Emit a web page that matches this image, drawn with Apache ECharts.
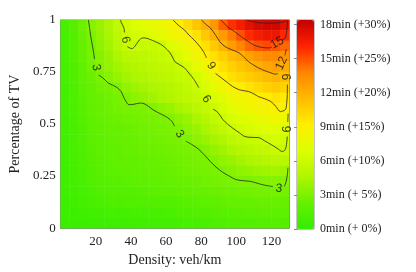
<!DOCTYPE html>
<html><head><meta charset="utf-8">
<script src="https://cdn.jsdelivr.net/npm/echarts@6/dist/echarts.min.js"></script>
<style>html,body{margin:0;padding:0;background:#fff}#c{width:416px;height:272px}</style>
</head><body><div id="c"></div>
<script>
// Density cell centres (veh/km)
const densities = [2.5,7.5,12.5,17.5,22.5,27.5,32.5,37.5,42.5,47.5,52.5,57.5,62.5,67.5,72.5,77.5,82.5,87.5,92.5,97.5,102.5,107.5,112.5,117.5,122.5,127.5];
// Share of TV cell centres, top row first
const tvShares = [0.975,0.925,0.875,0.825,0.775,0.725,0.675,0.625,0.575,0.525,0.475,0.425,0.375,0.325,0.275,0.225,0.175,0.125,0.075,0.025];
// Extra delay (min), rows follow tvShares, columns follow densities
const delayMin = [
 [1.0,1.6,2.5,3.3,3.9,4.6,5.5,6.3,6.8,7.2,7.6,8.0,8.5,9.1,10.0,11.0,11.9,13.0,14.7,15.8,16.5,17.2,17.7,17.9,17.9,17.2],
 [0.9,1.5,2.4,3.0,3.7,4.4,5.3,6.1,6.4,6.6,7.0,7.5,8.0,8.5,8.9,9.7,10.9,11.9,12.9,14.0,15.0,15.9,16.5,16.8,16.8,16.0],
 [0.9,1.4,2.3,2.9,3.5,4.2,5.0,5.8,5.9,5.7,5.8,6.0,6.8,7.5,8.2,8.9,9.8,10.8,11.8,12.8,13.7,14.5,15.0,15.2,14.9,14.5],
 [0.9,1.4,2.2,2.8,3.3,3.9,4.5,5.0,5.2,5.3,5.5,5.7,5.95,6.6,7.4,8.2,9.0,9.8,10.6,11.3,11.9,12.6,13.1,13.5,13.6,13.2],
 [0.9,1.3,2.1,2.7,3.2,3.7,4.2,4.6,4.8,5.0,5.2,5.4,5.6,5.85,6.5,7.4,8.3,9.2,9.9,10.5,11.0,11.5,12.0,12.4,12.6,12.2],
 [0.9,1.3,2.0,2.5,2.9,3.3,3.8,4.2,4.5,4.7,4.9,5.1,5.3,5.5,5.8,6.4,7.3,8.3,9.2,9.8,10.3,10.7,11.1,11.5,11.8,11.4],
 [0.8,1.2,1.9,2.3,2.6,2.8,3.0,3.6,4.0,4.3,4.5,4.7,4.9,5.2,5.5,5.9,6.6,7.4,8.2,8.8,9.3,9.7,10.1,10.5,10.8,10.4],
 [0.8,1.2,1.8,2.2,2.4,2.6,2.8,3.1,3.5,3.8,4.1,4.4,4.7,5.0,5.3,5.6,6.0,6.6,7.3,7.9,8.3,8.6,8.9,9.3,9.7,9.4],
 [0.8,1.1,1.7,2.1,2.3,2.5,2.7,2.85,2.9,2.95,3.1,3.5,3.9,4.3,4.7,5.1,5.5,6.0,6.6,7.2,7.7,8.1,8.4,8.7,8.95,8.7],
 [0.7,1.1,1.6,2.0,2.2,2.4,2.5,2.6,2.7,2.8,2.85,2.95,3.1,3.5,3.9,4.4,4.9,5.5,6.05,6.6,7.0,7.3,7.6,7.9,8.2,7.9],
 [0.7,1.0,1.5,1.9,2.1,2.2,2.3,2.4,2.5,2.6,2.7,2.8,2.9,3.1,3.5,3.9,4.4,4.9,5.4,5.9,6.3,6.6,6.9,7.1,7.3,6.9],
 [0.7,1.0,1.4,1.8,2.0,2.1,2.2,2.3,2.4,2.5,2.6,2.7,2.8,2.9,3.1,3.5,3.9,4.3,4.7,5.1,5.5,5.7,5.95,6.2,6.5,6.2],
 [0.7,0.95,1.3,1.7,1.9,2.0,2.1,2.2,2.3,2.4,2.45,2.55,2.65,2.75,2.85,2.95,3.3,3.7,4.1,4.5,4.9,5.2,5.4,5.6,5.9,5.9],
 [0.6,0.9,1.2,1.6,1.8,1.9,2.0,2.1,2.15,2.2,2.3,2.4,2.5,2.6,2.7,2.8,2.95,3.2,3.6,3.9,4.2,4.5,4.7,4.9,5.1,5.0],
 [0.6,0.85,1.1,1.45,1.7,1.8,1.9,2.0,2.05,2.1,2.2,2.3,2.4,2.5,2.6,2.7,2.8,2.9,3.05,3.3,3.6,3.8,4.0,4.1,4.2,4.0],
 [0.6,0.8,1.0,1.45,1.6,1.65,1.7,1.8,1.9,2.0,2.05,2.1,2.2,2.3,2.4,2.5,2.6,2.7,2.8,2.9,2.97,3.0,3.1,3.2,3.25,3.2],
 [0.55,0.7,0.9,1.1,1.4,1.5,1.55,1.55,1.6,1.7,1.8,1.9,2.0,2.05,2.1,2.2,2.3,2.4,2.5,2.55,2.6,2.65,2.7,2.75,2.8,2.7],
 [0.5,0.6,0.8,0.95,1.1,1.2,1.3,1.35,1.4,1.4,1.4,1.4,1.45,1.55,1.7,1.8,1.9,2.0,2.1,2.2,2.25,2.3,2.35,2.4,2.4,2.3],
 [0.4,0.5,0.6,0.65,0.7,0.75,0.8,0.85,0.9,0.95,1.0,1.0,1.1,1.2,1.3,1.4,1.5,1.6,1.7,1.8,1.85,1.9,1.95,2.0,2.0,1.9],
 [0.3,0.35,0.4,0.45,0.5,0.5,0.55,0.55,0.6,0.6,0.65,0.7,0.7,0.8,0.9,1.0,1.1,1.2,1.3,1.4,1.45,1.5,1.55,1.6,1.6,1.5]
];
// Contour lines: [density, share] points, split where labels sit
const contour3 = [
 [[15.8,1.0],[16.5,0.96],[17,0.928],[17.8,0.89],[18.6,0.852],[19.3,0.812]],
 [[21.6,0.735],[24,0.722],[26.8,0.699],[29.5,0.687],[32.2,0.675],[34.5,0.655],[36,0.627],[37.5,0.605],[38.8,0.593],[41,0.594],[43.2,0.598],[45.5,0.601],[47.5,0.598],[50,0.585],[52.5,0.569],[55,0.557],[57.9,0.545],[61,0.53],[63.4,0.512],[64.8,0.49]],
 [[71.2,0.418],[75,0.4],[78.7,0.378],[82,0.35],[85.2,0.32],[88.5,0.293],[92.3,0.268],[96,0.25],[99.5,0.234],[103.5,0.228],[107.7,0.225],[111,0.218],[114.2,0.21],[117.5,0.204],[120.8,0.2]],
 [[127.4,0.2],[128.4,0.225],[129.1,0.26],[129.4,0.29]]
];
const contour6 = [
 [[33.9,1.0],[35,0.98],[36,0.962],[36.3,0.94]],
 [[37.9,0.872],[39.3,0.866],[40.5,0.862],[42,0.871],[43.5,0.888],[44.8,0.904],[46,0.912],[47.5,0.914],[50.5,0.908],[54.1,0.895],[57,0.883],[59.6,0.866],[62,0.845],[63.9,0.818],[65,0.8],[67.5,0.786],[70.5,0.77],[73,0.745],[76,0.713],[78.6,0.675]],
 [[86.8,0.572],[89.6,0.555],[92.3,0.522],[95,0.5],[98,0.48],[101.6,0.459],[104.9,0.44],[108.5,0.436],[112.6,0.435],[116,0.42],[119.7,0.402],[123,0.385],[126.2,0.368],[127.9,0.378],[128.7,0.41],[129,0.44]],
 [[129.3,0.51],[129.5,0.55]]
];
const contour9 = [
 [[64,1.0],[67,0.975],[70.5,0.952],[73,0.928],[76,0.904],[79,0.875],[81.4,0.847],[83,0.818]],
 [[88.2,0.743],[90.7,0.727],[93,0.712],[95,0.699],[98,0.68],[101.6,0.665],[104.5,0.66],[107.1,0.656],[110,0.645],[112.6,0.632],[116,0.622],[119.7,0.608],[122.5,0.585],[125.1,0.56],[127.9,0.569],[128.7,0.6],[129,0.641],[129.1,0.69]]
];
const contour12 = [
 [[80.3,1.0],[82.5,0.98],[85.2,0.962],[88,0.93],[90.7,0.895],[93,0.876],[95,0.866],[98,0.855],[101.6,0.842],[104.5,0.82],[107.1,0.799],[110,0.783],[112.6,0.77],[116,0.757],[119.7,0.746],[122,0.74],[123.6,0.742]],
 [[127.6,0.83],[128.5,0.86]]
];
const contour15 = [
 [[91.3,1.0],[93,0.985],[95,0.967],[98,0.95],[101.6,0.928],[104.5,0.91],[107.1,0.895],[110,0.88],[113.1,0.871],[116,0.867],[118.6,0.866],[120.3,0.87]],
 [[126.2,0.905],[127.9,0.914],[128.7,0.95],[129,0.976],[129.2,1.0]]
];
const contour18 = [
 [[106,1.0],[107.7,0.995],[111,0.99],[114.2,0.986],[119,0.985],[123.5,0.986],[126.5,0.99],[127.9,0.995],[128.5,1.0]]
];
// Contour label anchors: [density, share, level]
const contourLabels = [[20.2,0.772,3],[67.8,0.452,3],[124.2,0.19,3],[36.9,0.905,6],[82.9,0.62,6],[129.2,0.476,6],[85.6,0.78,9],[129.3,0.727,9],[125.8,0.792,12],[123.3,0.89,15]];
const xTicks = [20,40,60,80,100,120];
const yTickLabels = ['0','0.25','0.5','0.75','1'];
const colorbarLabels = ['0min (+ 0%)','3min (+ 5%)','6min (+10%)','9min (+15%)','12min (+20%)','15min (+25%)','18min (+30%)'];

const labelRot = [-80,-55,-6,-75,-58,90,-55,90,65,30];
const serif = 'Liberation Serif';
const sans = 'Liberation Sans';
const frame = '#8a8a8a';
const nR = tvShares.length;
const heat = [];
delayMin.forEach((row, r) => row.forEach((v, c) => heat.push([c, nR - 1 - r, v])));
const yCats = tvShares.slice().reverse();

const series = [{
  type: 'heatmap', xAxisIndex: 0, yAxisIndex: 0, data: heat,
  itemStyle: {borderWidth: 0}, emphasis: {disabled: true}, progressive: 0, z: 1
}];
[contour3, contour6, contour9, contour12, contour15, contour18].forEach(segs => segs.forEach(seg => {
  series.push({type: 'line', xAxisIndex: 1, yAxisIndex: 1, data: seg, symbol: 'none', smooth: 0.3,
    lineStyle: {color: '#262626', width: 0.8}, silent: true, z: 3});
}));
series.push({
  type: 'scatter', xAxisIndex: 1, yAxisIndex: 1, symbolSize: 0, silent: true, z: 4,
  data: contourLabels.map((d, i) => ({value: [d[0], d[1]], label: {rotate: labelRot[i]}, name: String(d[2])})),
  label: {show: true, position: 'inside', formatter: p => p.name, fontFamily: sans, fontSize: 12, color: '#111'}
});

const axLabel = {fontFamily: serif, fontSize: 13, color: '#222'};
const option = {
  animation: false,
  grid: [
    {left: 52, top: 20, width: 237, height: 209, show: true, borderColor: frame, borderWidth: 1, backgroundColor: 'transparent'},
    {left: 297, top: 20, width: 17, height: 209, show: true, borderColor: frame, borderWidth: 1}
  ],
  xAxis: [
    {type: 'category', gridIndex: 0, data: densities, show: false},
    {type: 'value', gridIndex: 0, min: 0, max: 130, interval: 20, position: 'bottom',
     axisLine: {lineStyle: {color: frame}}, axisTick: {inside: true, length: 4, lineStyle: {color: frame}},
     axisLabel: Object.assign({margin: 7, showMinLabel: false, showMaxLabel: false, formatter: v => xTicks.includes(v) ? String(v) : ''}, axLabel),
     splitLine: {show: false},
     name: 'Density: veh/km', nameLocation: 'middle', nameGap: 24, nameTextStyle: {fontFamily: serif, fontSize: 14, color: '#222'}},
    {type: 'value', gridIndex: 0, min: 0, max: 130, interval: 20, position: 'top',
     axisLine: {lineStyle: {color: frame}}, axisTick: {inside: true, length: 4, lineStyle: {color: frame}},
     axisLabel: {show: false}, splitLine: {show: false}},
    {type: 'value', gridIndex: 1, min: 0, max: 1, show: false}
  ],
  yAxis: [
    {type: 'category', gridIndex: 0, data: yCats, show: false},
    {type: 'value', gridIndex: 0, min: 0, max: 1, interval: 0.25, position: 'left',
     axisLine: {lineStyle: {color: frame}}, axisTick: {inside: true, length: 4, lineStyle: {color: frame}},
     axisLabel: Object.assign({margin: 5, formatter: v => yTickLabels[Math.round(v / 0.25)]}, axLabel),
     splitLine: {show: false},
     name: 'Percentage of TV', nameLocation: 'middle', nameGap: 33, nameTextStyle: {fontFamily: serif, fontSize: 14, color: '#222'}},
    {type: 'value', gridIndex: 0, min: 0, max: 1, interval: 0.25, position: 'right',
     axisLine: {lineStyle: {color: frame}}, axisTick: {inside: true, length: 4, lineStyle: {color: frame}},
     axisLabel: {show: false}, splitLine: {show: false}},
    {type: 'value', gridIndex: 1, min: 0, max: 18.4, interval: 3, position: 'right',
     axisLine: {lineStyle: {color: frame}}, axisTick: {inside: true, length: 3, lineStyle: {color: frame}},
     axisLabel: Object.assign({margin: 6, showMaxLabel: false, formatter: v => (Math.abs(v / 3 - Math.round(v / 3)) < 1e-6) ? colorbarLabels[Math.round(v / 3)] : ''}, axLabel, {fontSize: 12}),
     splitLine: {show: false}}
  ],
  visualMap: {
    type: 'continuous', seriesIndex: 0, min: 0, max: 18.4, calculable: false, show: true,
    left: 297, top: 20, itemWidth: 17, itemHeight: 209, padding: 0, text: null, hoverLink: false,
    inRange: {color: ['#33ee00','#66f000','#b0f500','#dcff00','#ffee00','#ffbb00','#ff8500','#ff2200','#c40000']}
  },
  series: series
};
const chart = echarts.init(document.getElementById('c'), null, {renderer: 'canvas'});
chart.setOption(option);
</script>
</body></html>
